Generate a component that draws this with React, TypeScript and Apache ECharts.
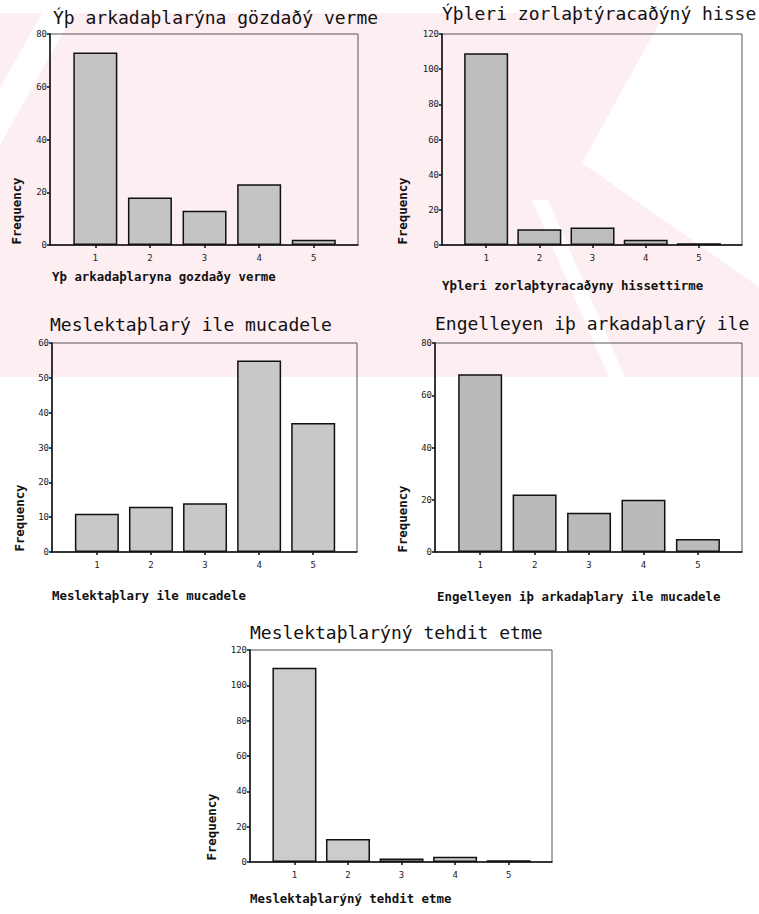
import React, { useEffect, useRef } from 'react';
import * as echarts from 'echarts';

// ---------- data ----------
const categories = [1, 2, 3, 4, 5];
const tickLabels = ['1', '2', '3', '4', '5'];

const gozdagiValues = [73, 18, 13, 23, 2];
const zorlastirmaValues = [109, 9, 10, 3, 1];
const mucadeleValues = [11, 13, 14, 55, 37];
const engelleyenValues = [68, 22, 15, 20, 5];
const tehditValues = [110, 13, 2, 3, 1];

const chartTitles = [
  'Ýþ arkadaþlarýna gözdaðý verme',
  'Ýþleri zorlaþtýracaðýný hisse',
  'Meslektaþlarý ile mucadele',
  'Engelleyen iþ arkadaþlarý ile',
  'Meslektaþlarýný tehdit etme',
];
const xAxisNames = [
  'Yþ arkadaþlaryna gozdaðy verme',
  'Yþleri zorlaþtyracaðyny hissettirme',
  'Meslektaþlary ile mucadele',
  'Engelleyen iþ arkadaþlary ile mucadele',
  'Meslektaþlarýný tehdit etme',
];
const yAxisName = 'Frequency';
const yMaxes = [80, 120, 60, 80, 120];
const ySteps = [20, 20, 10, 20, 20];
const seriesValues = [gozdagiValues, zorlastirmaValues, mucadeleValues, engelleyenValues, tehditValues];

// ---------- layout (styles) ----------
const layouts = [
  { grid: { left: 50, top: 34, width: 308, height: 211 }, title: [53, 17], xName: [52, 276], freq: [16, 211], color: '#c4c4c4' },
  { grid: { left: 442, top: 34, width: 300, height: 211 }, title: [442, 13], xName: [442, 285], freq: [402, 211], color: '#bdbdbd' },
  { grid: { left: 52, top: 343, width: 305, height: 209 }, title: [50, 324], xName: [52, 595], freq: [19, 518], color: '#c8c8c8' },
  { grid: { left: 435, top: 343, width: 307, height: 209 }, title: [435, 323], xName: [437, 596], freq: [402, 519], color: '#bababa' },
  { grid: { left: 250, top: 650, width: 302, height: 212 }, title: [250, 632], xName: [250, 898], freq: [211, 827], color: '#cccccc' },
];

const MONO = '"DejaVu Sans Mono", "Liberation Mono", monospace';

export default function App() {
  const ref = useRef<HTMLDivElement>(null);

  useEffect(() => {
    document.body.style.margin = '0';
    if (!ref.current) return;
    const chart = echarts.init(ref.current, undefined, { renderer: 'svg' });

    const pink = '#fdeef1';
    const watermark: any[] = [
      { type: 'rect', shape: { x: 0, y: 13, width: 759, height: 364 }, style: { fill: pink }, z: -10, silent: true },
      { type: 'polygon', shape: { points: [[42, 13], [74, 13], [0, 145], [0, 88]] }, style: { fill: '#ffffff' }, z: -9, silent: true },
      { type: 'polygon', shape: { points: [[582, 163], [665, 13], [759, 13], [759, 287]] }, style: { fill: '#ffffff' }, z: -9, silent: true },
      { type: 'polygon', shape: { points: [[532, 200], [548, 200], [625, 377], [609, 377]] }, style: { fill: '#ffffff' }, z: -9, silent: true },
    ];

    const texts: any[] = [];
    layouts.forEach((l, i) => {
      texts.push({
        type: 'text', x: l.title[0], y: l.title[1], silent: true,
        style: { text: chartTitles[i], font: `18px ${MONO}`, fill: '#111', textAlign: 'left', align: 'left', textVerticalAlign: 'middle', verticalAlign: 'middle' },
      });
      texts.push({
        type: 'text', x: l.xName[0], y: l.xName[1], silent: true,
        style: { text: xAxisNames[i], font: `bold 12.4px ${MONO}`, fill: '#111', textAlign: 'left', align: 'left', textVerticalAlign: 'middle', verticalAlign: 'middle' },
      });
      texts.push({
        type: 'text', x: l.freq[0], y: l.freq[1], rotation: Math.PI / 2, silent: true,
        style: { text: yAxisName, font: `bold 12.4px ${MONO}`, fill: '#111', textAlign: 'center', align: 'center', textVerticalAlign: 'middle', verticalAlign: 'middle' },
      });
    });

    const axisLine = { show: true, onZero: false, lineStyle: { color: '#111', width: 1.5 } };

    const option: any = {
      animation: false,
      backgroundColor: 'transparent',
      grid: layouts.map((l) => ({ ...l.grid, show: true, borderColor: '#555', borderWidth: 1, backgroundColor: 'transparent', containLabel: false })),
      xAxis: layouts.map((_, i) => ({
        gridIndex: i,
        type: 'value',
        min: 0.17,
        max: 5.81,
        axisLine,
        axisTick: { show: true, length: 3, customValues: categories, lineStyle: { color: '#111', width: 1.5 } },
        axisLabel: {
          customValues: categories,
          fontSize: 9,
          color: '#222',
          margin: 8,
          fontFamily: MONO,
          formatter: (v: number) => tickLabels[Math.round(v) - 1] ?? '',
        },
        splitLine: { show: false },
      })),
      yAxis: layouts.map((_, i) => ({
        gridIndex: i,
        type: 'value',
        min: 0,
        max: yMaxes[i],
        interval: ySteps[i],
        axisLine,
        axisTick: { show: true, length: 3, lineStyle: { color: '#111', width: 1.5 } },
        axisLabel: { fontSize: 9, color: '#222', margin: 3, fontFamily: MONO },
        splitLine: { show: false },
      })),
      series: layouts.map((l, i) => ({
        type: 'bar',
        xAxisIndex: i,
        yAxisIndex: i,
        barWidth: 44,
        silent: true,
        itemStyle: { color: l.color, borderColor: '#111', borderWidth: 1.5 },
        data: seriesValues[i].map((v, j) => [categories[j], v]),
      })),
      graphic: { elements: [...watermark, ...texts] },
    };

    chart.setOption(option);
    return () => chart.dispose();
  }, []);

  return <div ref={ref} style={{ width: 759, height: 914, background: '#fff' }} />;
}
